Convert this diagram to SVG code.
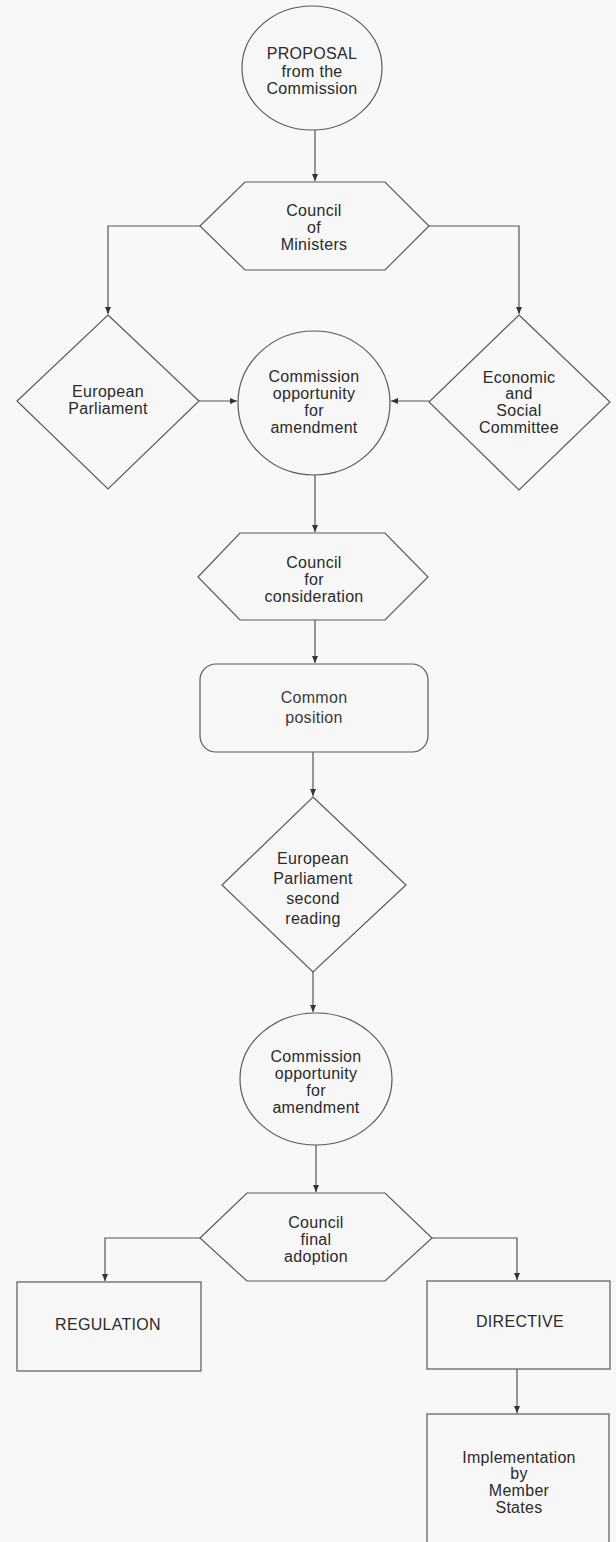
<svg xmlns="http://www.w3.org/2000/svg" width="616" height="1542" viewBox="0 0 616 1542">
<defs>
<marker id="ah" markerWidth="8" markerHeight="8" refX="7" refY="4" orient="auto" markerUnits="userSpaceOnUse">
<path d="M0,1 L7,4 L0,7 Z" fill="#333"/>
</marker>
<style>
.shape{fill:#f7f7f7;stroke:#5a5a5a;stroke-width:1.2}
.conn{fill:none;stroke:#555;stroke-width:1.2;marker-end:url(#ah)}
text{font-family:"Liberation Sans",Arial,Helvetica,sans-serif;font-size:16px;fill:#2a2a2a;text-anchor:middle;letter-spacing:0.3px}
</style>
</defs>
<rect x="0" y="0" width="616" height="1542" fill="#f8f8f8"/>
<g id="connectors">
<path class="conn" d="M315,130 L315,181"/>
<path class="conn" d="M200,226 L108,226 L108,314"/>
<path class="conn" d="M429,226 L519,226 L519,314"/>
<path class="conn" d="M199,401 L237,401"/>
<path class="conn" d="M429,401 L391,401"/>
<path class="conn" d="M315,475 L315,532"/>
<path class="conn" d="M315,620 L315,663"/>
<path class="conn" d="M313,752 L313,796"/>
<path class="conn" d="M313,972 L313,1012"/>
<path class="conn" d="M316,1145 L316,1192"/>
<path class="conn" d="M200,1238 L105,1238 L105,1281"/>
<path class="conn" d="M432,1238 L517,1238 L517,1280"/>
<path class="conn" d="M517,1369 L517,1413"/>
</g>
<g id="proposal">
<ellipse class="shape" cx="312" cy="68" rx="70" ry="62"/>
<text x="312" y="59">PROPOSAL</text>
<text x="312" y="77">from the</text>
<text x="312" y="94">Commission</text>
</g>
<g id="council-ministers">
<polygon class="shape" points="200,226 245,182 385,182 429,226 385,270 245,270"/>
<text x="314" y="216">Council</text>
<text x="314" y="233">of</text>
<text x="314" y="250">Ministers</text>
</g>
<g id="european-parliament">
<polygon class="shape" points="108,315 199,401 108,489 17,401"/>
<text x="108" y="397">European</text>
<text x="108" y="414">Parliament</text>
</g>
<g id="commission-amend-1">
<ellipse class="shape" cx="314" cy="403" rx="76" ry="72"/>
<text x="314" y="382">Commission</text>
<text x="314" y="399">opportunity</text>
<text x="314" y="416">for</text>
<text x="314" y="433">amendment</text>
</g>
<g id="ecosoc">
<polygon class="shape" points="519,315 610,402 519,490 429,402"/>
<text x="519" y="383">Economic</text>
<text x="519" y="399">and</text>
<text x="519" y="416">Social</text>
<text x="519" y="433">Committee</text>
</g>
<g id="council-consideration">
<polygon class="shape" points="198,577 240,533 385,533 428,577 385,620 240,620"/>
<text x="314" y="568">Council</text>
<text x="314" y="585">for</text>
<text x="314" y="602">consideration</text>
</g>
<g id="common-position">
<rect class="shape" x="200" y="664" width="228" height="88" rx="16" ry="16"/>
<text x="314" y="703" style="fill:#3a3a3a">Common</text>
<text x="314" y="723" style="fill:#3a3a3a">position</text>
</g>
<g id="ep-second-reading">
<polygon class="shape" points="313,797 406,885 313,972 222,885"/>
<text x="313" y="864">European</text>
<text x="313" y="884">Parliament</text>
<text x="313" y="904">second</text>
<text x="313" y="924">reading</text>
</g>
<g id="commission-amend-2">
<ellipse class="shape" cx="316" cy="1079" rx="76" ry="66"/>
<text x="316" y="1062">Commission</text>
<text x="316" y="1079">opportunity</text>
<text x="316" y="1096">for</text>
<text x="316" y="1113">amendment</text>
</g>
<g id="council-final">
<polygon class="shape" points="200,1238 247,1193 385,1193 432,1238 385,1281 247,1281"/>
<text x="316" y="1228">Council</text>
<text x="316" y="1245">final</text>
<text x="316" y="1262">adoption</text>
</g>
<g id="regulation">
<rect class="shape" x="17" y="1282" width="184" height="89"/>
<text x="108" y="1330">REGULATION</text>
</g>
<g id="directive">
<rect class="shape" x="427" y="1281" width="183" height="88"/>
<text x="520" y="1327">DIRECTIVE</text>
</g>
<g id="implementation">
<rect class="shape" x="427" y="1414" width="182" height="140"/>
<text x="519" y="1463">Implementation</text>
<text x="519" y="1479">by</text>
<text x="519" y="1496">Member</text>
<text x="519" y="1513">States</text>
</g>
</svg>
